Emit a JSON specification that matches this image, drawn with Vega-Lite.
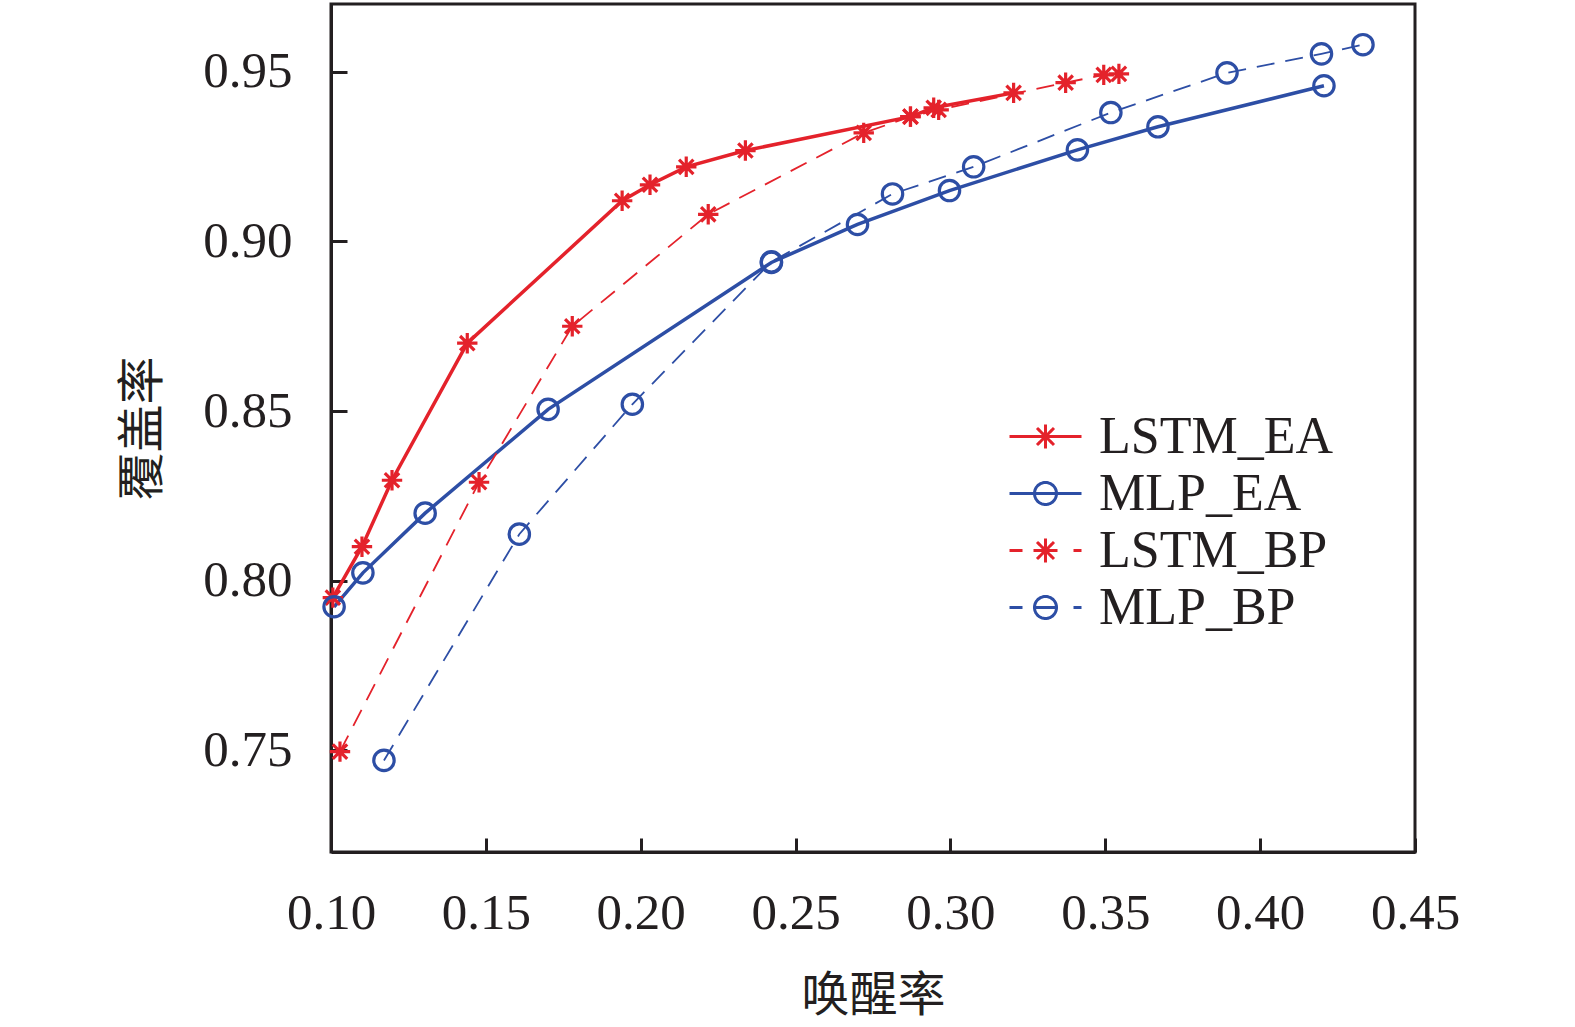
{
  "$schema": "https://vega.github.io/schema/vega-lite/v6.json",
  "width": 1084,
  "height": 848,
  "autosize": "none",
  "padding": {"left": 331, "top": 4, "right": 160, "bottom": 175},
  "background": "white",
  "data": {
    "values": [
      {"series": "LSTM_EA", "x": 0.1006, "y": 0.795},
      {"series": "LSTM_EA", "x": 0.110, "y": 0.810},
      {"series": "LSTM_EA", "x": 0.1197, "y": 0.8296},
      {"series": "LSTM_EA", "x": 0.144, "y": 0.870},
      {"series": "LSTM_EA", "x": 0.194, "y": 0.912},
      {"series": "LSTM_EA", "x": 0.203, "y": 0.9167},
      {"series": "LSTM_EA", "x": 0.2147, "y": 0.922},
      {"series": "LSTM_EA", "x": 0.2338, "y": 0.9268},
      {"series": "LSTM_EA", "x": 0.2871, "y": 0.9368},
      {"series": "LSTM_EA", "x": 0.2946, "y": 0.9394},
      {"series": "LSTM_EA", "x": 0.3204, "y": 0.9438},
      {"series": "MLP_EA", "x": 0.101, "y": 0.7923},
      {"series": "MLP_EA", "x": 0.1103, "y": 0.8023},
      {"series": "MLP_EA", "x": 0.1304, "y": 0.8199},
      {"series": "MLP_EA", "x": 0.1701, "y": 0.8505},
      {"series": "MLP_EA", "x": 0.2422, "y": 0.8938},
      {"series": "MLP_EA", "x": 0.270, "y": 0.905},
      {"series": "MLP_EA", "x": 0.2997, "y": 0.915},
      {"series": "MLP_EA", "x": 0.341, "y": 0.927},
      {"series": "MLP_EA", "x": 0.367, "y": 0.9338},
      {"series": "MLP_EA", "x": 0.4206, "y": 0.9459},
      {"series": "LSTM_BP", "x": 0.1029, "y": 0.7496},
      {"series": "LSTM_BP", "x": 0.1478, "y": 0.829},
      {"series": "LSTM_BP", "x": 0.1779, "y": 0.875},
      {"series": "LSTM_BP", "x": 0.2218, "y": 0.908},
      {"series": "LSTM_BP", "x": 0.272, "y": 0.932},
      {"series": "LSTM_BP", "x": 0.2871, "y": 0.9368},
      {"series": "LSTM_BP", "x": 0.2962, "y": 0.9388},
      {"series": "LSTM_BP", "x": 0.3372, "y": 0.9468},
      {"series": "LSTM_BP", "x": 0.3495, "y": 0.9491},
      {"series": "LSTM_BP", "x": 0.3544, "y": 0.9494},
      {"series": "MLP_BP", "x": 0.1171, "y": 0.747},
      {"series": "MLP_BP", "x": 0.1608, "y": 0.8137},
      {"series": "MLP_BP", "x": 0.1973, "y": 0.852},
      {"series": "MLP_BP", "x": 0.2422, "y": 0.894},
      {"series": "MLP_BP", "x": 0.2813, "y": 0.914},
      {"series": "MLP_BP", "x": 0.3075, "y": 0.922},
      {"series": "MLP_BP", "x": 0.3518, "y": 0.938},
      {"series": "MLP_BP", "x": 0.3893, "y": 0.9497},
      {"series": "MLP_BP", "x": 0.4198, "y": 0.9553},
      {"series": "MLP_BP", "x": 0.4332, "y": 0.958}
    ]
  },
  "encoding": {
    "x": {
      "field": "x", "type": "quantitative",
      "scale": {"domain": [0.10, 0.45], "zero": false, "nice": false},
      "axis": {
        "title": "唤醒率",
        "values": [0.10, 0.15, 0.20, 0.25, 0.30, 0.35, 0.40, 0.45],
        "format": ".2f",
        "labelFlush": false,
        "tickSize": -14,
        "labelPadding": 50,
        "titlePadding": 34
      }
    },
    "y": {
      "field": "y", "type": "quantitative",
      "scale": {"domain": [0.72, 0.97], "zero": false, "nice": false},
      "axis": {
        "title": "覆盖率",
        "values": [0.75, 0.80, 0.85, 0.90, 0.95],
        "format": ".2f",
        "tickSize": -16,
        "labelPadding": 55,
        "titlePadding": 35
      }
    },
    "color": {
      "field": "series", "type": "nominal",
      "scale": {
        "domain": ["LSTM_EA", "MLP_EA", "LSTM_BP", "MLP_BP"],
        "range": ["#e4222b", "#2d4ea5", "#e4222b", "#2d4ea5"]
      },
      "legend": {
        "title": null,
        "orient": "none",
        "legendX": 688,
        "legendY": 406,
        "padding": 0,
        "symbolSize": 2500,
        "labelOffset": 27,
        "labelLimit": 0,
        "rowPadding": 4,
        "labelFont": "Liberation Serif",
        "labelFontSize": 52,
        "labelColor": "#231f20",
        "labelBaseline": "middle",
        "encode": {
          "symbols": {
            "update": {
              "shape": [
                {"test": "datum.value === 'LSTM_EA'", "value": "M-1.44,0H1.44M0,-0.48V0.48M-0.34,-0.34L0.34,0.34M-0.34,0.34L0.34,-0.34"},
                {"test": "datum.value === 'MLP_EA'", "value": "M-1.44,0H1.44M0.44,0A0.44,0.44,0,1,1,-0.44,0A0.44,0.44,0,1,1,0.44,0"},
                {"test": "datum.value === 'LSTM_BP'", "value": "M-1.44,0H-0.92M1.12,0H1.44M0,-0.48V0.48M-0.48,0H0.48M-0.34,-0.34L0.34,0.34M-0.34,0.34L0.34,-0.34"},
                {"value": "M-1.44,0H-0.92M-0.44,0H0.44M1.12,0H1.44M0.44,0A0.44,0.44,0,1,1,-0.44,0A0.44,0.44,0,1,1,0.44,0"}
              ],
              "strokeWidth": {"value": 3},
              "strokeDash": {"value": [1, 0]},
              "fill": {"value": "transparent"},
              "opacity": {"value": 1}
            }
          }
        }
      }
    }
  },
  "layer": [
    {
      "transform": [{"filter": {"field": "series", "oneOf": ["LSTM_EA", "MLP_EA"]}}],
      "mark": {"type": "line", "strokeWidth": 3.5}
    },
    {
      "transform": [{"filter": {"field": "series", "oneOf": ["LSTM_BP", "MLP_BP"]}}],
      "mark": {"type": "line", "strokeWidth": 1.8, "strokeDash": [18, 11]}
    },
    {
      "transform": [{"filter": {"field": "series", "oneOf": ["LSTM_EA", "LSTM_BP"]}}],
      "mark": {
        "type": "point", "filled": false, "strokeWidth": 3.2, "size": 576, "opacity": 1,
        "shape": "M0,-0.85V0.85M-0.85,0H0.85M-0.6,-0.6L0.6,0.6M-0.6,0.6L0.6,-0.6"
      }
    },
    {
      "transform": [{"filter": {"field": "series", "oneOf": ["MLP_EA", "MLP_BP"]}}],
      "mark": {
        "type": "point", "filled": false, "strokeWidth": 3.2, "size": 576, "opacity": 1,
        "shape": "M0.85,0A0.85,0.85,0,1,1,-0.85,0A0.85,0.85,0,1,1,0.85,0"
      }
    }
  ],
  "config": {
    "view": {"stroke": "#231f20", "strokeWidth": 3},
    "axis": {
      "grid": false,
      "domainColor": "#231f20",
      "domainWidth": 3,
      "tickColor": "#231f20",
      "tickWidth": 3,
      "labelFont": "Liberation Serif",
      "labelFontSize": 51,
      "labelColor": "#231f20",
      "titleFont": "Noto Sans CJK SC",
      "titleFontSize": 48,
      "titleFontWeight": "normal",
      "titleColor": "#231f20"
    }
  }
}
